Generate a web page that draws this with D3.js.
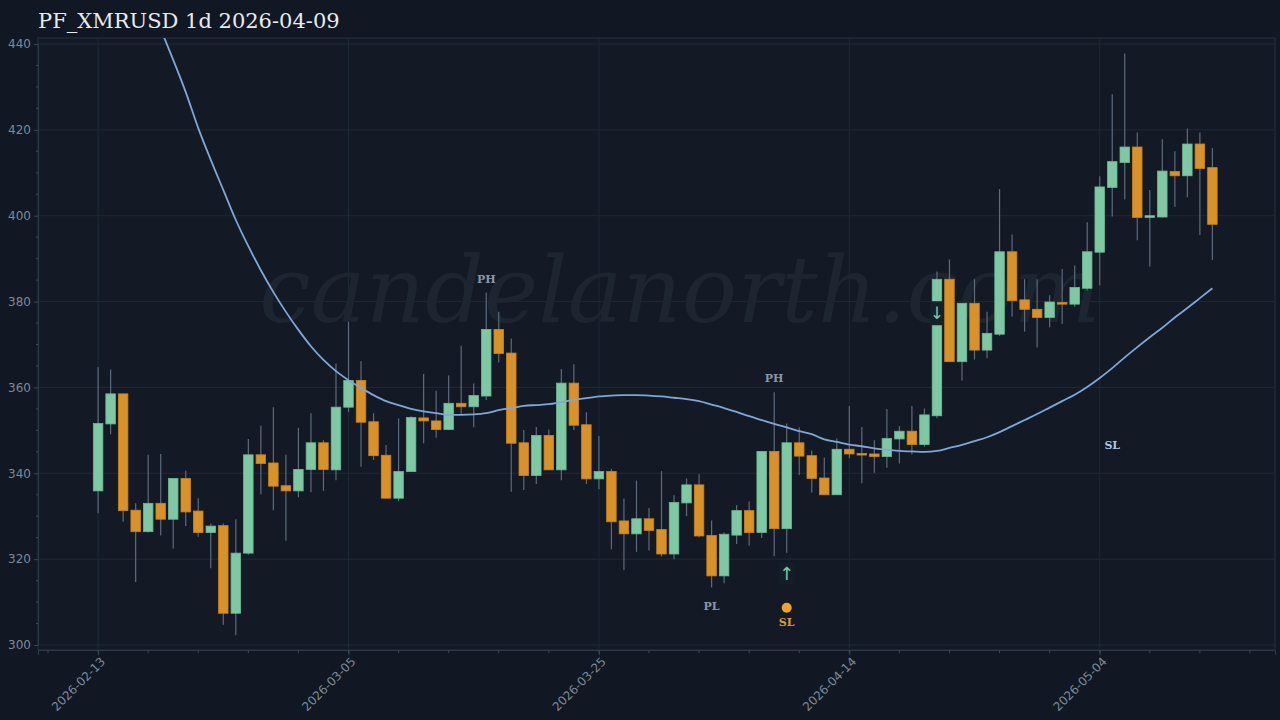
<!DOCTYPE html>
<html><head><meta charset="utf-8">
<script src="https://cdn.jsdelivr.net/npm/d3@7"></script>
<style>html,body{margin:0;padding:0;background:#111823;}svg{display:block}</style>
</head><body>
<svg id="c" width="1280" height="720"></svg>
<script>
const startDate = "2026-02-13";
const opens  = [335.9,351.5,358.5,331.4,326.4,333.0,329.3,338.8,331.2,326.2,327.8,307.4,321.4,344.3,342.4,337.1,335.9,340.9,347.1,340.8,355.4,361.6,352.0,344.2,334.2,340.4,352.9,352.2,350.2,356.3,355.5,358.0,373.5,368.0,347.1,339.5,348.8,340.8,361.0,351.3,338.7,340.4,328.9,325.9,329.4,326.9,321.2,333.1,337.3,325.5,316.1,325.6,331.3,326.2,345.1,327.1,347.1,344.1,338.9,335.0,345.6,344.6,344.5,343.9,348.0,349.8,346.7,353.4,385.2,366.0,379.6,368.7,372.4,391.6,380.4,378.2,376.3,379.8,379.4,383.1,391.5,406.6,412.4,416.0,399.6,399.7,410.3,409.3,416.7,411.2];
const highs  = [364.7,364.2,358.5,333.0,344.3,344.5,338.8,340.6,334.2,328.3,328.3,329.3,348.0,351.1,355.4,344.3,350.6,354.0,347.7,365.6,375.3,366.1,354.0,346.6,352.8,353.3,363.1,359.2,362.8,369.7,360.9,382.1,377.6,371.4,350.1,350.8,350.2,364.3,365.4,354.2,348.7,341.0,334.1,338.3,331.9,340.5,334.9,338.8,339.8,329.0,326.2,332.6,333.4,345.1,358.9,351.6,350.7,345.3,343.7,348.1,355.7,350.8,347.7,355.0,351.0,355.7,355.1,387.0,389.8,379.6,385.2,377.6,406.2,395.6,385.2,385.2,381.5,387.6,388.4,398.5,409.2,428.3,437.8,419.4,406.0,417.8,415.0,420.3,419.4,415.8];
const lows   = [330.7,349.1,328.7,314.7,326.2,325.5,322.5,327.7,325.2,317.9,304.7,302.3,321.0,335.1,331.4,324.3,334.4,335.6,335.9,338.4,354.3,341.5,343.1,334.2,333.5,340.4,347.0,348.3,350.2,353.8,350.7,357.1,365.8,335.7,336.1,337.5,340.8,338.4,350.1,337.5,336.3,322.3,317.5,321.7,322.0,320.6,320.0,330.0,325.1,313.4,314.4,323.5,323.1,324.9,320.7,321.5,339.6,335.5,335.0,335.0,343.5,337.7,340.1,341.3,342.3,344.4,346.2,352.8,366.0,361.6,366.5,366.8,372.0,376.5,373.0,369.3,374.0,374.8,378.8,382.5,383.8,399.8,403.8,394.3,388.1,399.5,402.1,404.3,395.5,389.7];
const closes = [351.6,358.5,331.3,326.4,333.0,329.3,338.8,331.0,326.2,327.7,307.4,321.4,344.3,342.3,337.0,335.9,340.9,347.1,340.9,355.4,361.6,351.9,344.1,334.2,340.4,353.0,352.2,350.2,356.3,355.5,358.1,373.5,367.9,347.0,339.5,348.8,340.8,361.0,351.2,338.7,340.4,328.7,325.9,329.4,326.7,321.2,333.2,337.3,325.4,316.1,325.8,331.3,326.2,345.1,327.1,347.1,344.0,338.8,335.0,345.6,344.5,344.3,343.9,348.1,349.8,346.7,353.6,385.2,366.0,379.6,368.7,372.6,391.6,380.2,378.2,376.3,379.9,379.4,383.3,391.6,406.7,412.6,416.0,399.6,400.0,410.4,409.3,416.7,411.0,398.0];
const maStart = 6;
const maValues = [436.3,428.8,420.4,413.0,406.0,399.0,392.9,387.3,382.2,377.6,373.4,369.6,366.4,363.8,361.7,359.9,358.2,356.8,355.9,355.0,354.4,354.0,353.6,353.6,353.7,354.0,354.7,355.2,355.7,355.9,356.1,356.6,357.1,357.5,357.9,358.1,358.2,358.2,358.1,357.9,357.6,357.3,356.8,356.0,355.2,354.3,353.3,352.4,351.5,350.7,349.8,349.1,347.9,347.3,346.7,346.3,345.8,345.5,345.2,345.1,345.0,345.2,345.9,346.6,347.5,348.4,349.6,351.0,352.4,353.8,355.3,356.8,358.3,360.1,362.2,364.5,367.0,369.4,371.7,373.9,376.3,378.5,380.8,383.1];
const yTicks = [300,320,340,360,380,400,420,440];
const xTickLabels = ["2026-02-13","2026-03-05","2026-03-25","2026-04-14","2026-05-04"];
const markers = [
  {i:31, type:"PH"}, {i:54, type:"PH"}, {i:49, type:"PL"},
  {i:55, type:"up"}, {i:55, type:"slDot"}, {i:67, type:"down"}, {i:81, type:"SLblue"}
];

const svg = d3.select("#c");
const L=38,R=1275,T=38,B=650;
const t0 = d3.utcParse("%Y-%m-%d")(startDate);
const dates = opens.map((_,i)=>d3.utcDay.offset(t0,i));
const day = 86400000;
const x = d3.scaleUtc().domain([new Date(+t0-4.8*day), new Date(+t0+94.0*day)]).range([L,R]);
const y = d3.scaleLinear().domain([300,440]).range([645,44]);

svg.append("rect").attr("width",1280).attr("height",720).attr("fill","#111823");
svg.append("rect").attr("x",L).attr("y",T).attr("width",R-L).attr("height",B-T).attr("fill","#131a25").attr("stroke","#263240");

const g = svg.append("g");
g.selectAll(".hg").data(yTicks).join("line").attr("x1",L).attr("x2",R).attr("y1",d=>y(d)).attr("y2",d=>y(d)).attr("stroke","#1c2a35").attr("stroke-width",1);
const majors = xTickLabels.map(s=>d3.utcParse("%Y-%m-%d")(s));
g.selectAll(".vg").data(majors).join("line").attr("y1",T).attr("y2",B).attr("x1",d=>x(d)).attr("x2",d=>x(d)).attr("stroke","#1c2a35");

svg.append("text").attr("x",680).attr("y",322).attr("text-anchor","middle").attr("font-family","DejaVu Serif").attr("font-style","italic").attr("font-size",92).attr("fill","#1c2530").text("candelanorth.com");

const ya = d3.axisLeft(y).tickValues(yTicks).tickSize(4).tickFormat(d3.format("d"));
const yAx = svg.append("g").attr("transform",`translate(${L},0)`).call(ya);
const yMinor = d3.range(300,441,5).filter(v=>v%20);
svg.append("g").selectAll("line").data(yMinor).join("line").attr("x1",L-2).attr("x2",L).attr("y1",d=>y(d)).attr("y2",d=>y(d)).attr("stroke","#3a4756");
const minorX = d3.range(-4,95,4).map(k=>d3.utcDay.offset(t0,k));
const xa = d3.axisBottom(x).tickValues(majors).tickSize(5).tickFormat(d3.utcFormat("%Y-%m-%d"));
const xAx = svg.append("g").attr("transform",`translate(0,${B})`).call(xa);
svg.append("g").selectAll("line").data(minorX).join("line").attr("x1",d=>x(d)).attr("x2",d=>x(d)).attr("y1",B).attr("y2",B+3).attr("stroke","#3a4756");
[yAx,xAx].forEach(a=>{a.select(".domain").attr("stroke","#2c3947");a.selectAll(".tick line").attr("stroke","#3a4756");a.selectAll("text").attr("fill","#7d8a99").attr("font-family","DejaVu Sans").attr("font-size",12);});
xAx.selectAll("text").attr("text-anchor","end").attr("dx","-0.3em").attr("dy","0.5em").attr("transform","rotate(-45)");

const bw = 9.5;
const up="#7fc8a4", dn="#d9922a";
const cg = svg.append("g");
dates.forEach((d,i)=>{
  const cx = x(d), isUp = closes[i]>=opens[i];
  cg.append("line").attr("x1",cx).attr("x2",cx).attr("y1",y(highs[i])).attr("y2",y(lows[i])).attr("stroke","#5d6b7b").attr("stroke-width",1.2);
  const top=y(Math.max(opens[i],closes[i])), bot=y(Math.min(opens[i],closes[i]));
  cg.append("rect").attr("x",cx-bw/2).attr("y",top).attr("width",bw).attr("height",Math.max(1.5,bot-top)).attr("fill",isUp?up:dn).attr("stroke",isUp?"#6fb894":"#c9841f").attr("stroke-width",0.8);
});

svg.append("clipPath").attr("id","clp").append("rect").attr("x",L).attr("y",T).attr("width",R-L).attr("height",B-T);
const maPts = maValues.map((v,k)=>[dates[maStart+k],v]);
svg.append("path").attr("clip-path","url(#clp)").datum([[dates[5],443.5],...maPts]).attr("fill","none").attr("stroke","#7ea6d8").attr("stroke-width",1.8)
  .attr("d",d3.line().x(p=>x(p[0])).y(p=>y(p[1])).curve(d3.curveMonotoneX));

markers.forEach(m=>{
  const cx=x(dates[m.i]);
  if(m.type==="PH") svg.append("text").attr("x",cx).attr("y",y(highs[m.i])-10).attr("text-anchor","middle").attr("font-family","DejaVu Serif").attr("font-weight","bold").attr("font-size",11).attr("fill","#8a96a6").text("PH");
  if(m.type==="PL") svg.append("text").attr("x",cx).attr("y",y(lows[m.i])+23).attr("text-anchor","middle").attr("font-family","DejaVu Serif").attr("font-weight","bold").attr("font-size",11).attr("fill","#8a96a6").text("PL");
  if(m.type==="up"){ svg.append("rect").attr("x",cx-8).attr("y",y(lows[m.i])+10).attr("width",16).attr("height",22).attr("fill","#141e28");
    svg.append("text").attr("x",cx).attr("y",y(lows[m.i])+27).attr("text-anchor","middle").attr("font-family","DejaVu Sans").attr("font-size",18).attr("fill","#7fc8a4").text("↑");}
  if(m.type==="slDot"){ svg.append("circle").attr("cx",cx).attr("cy",y(lows[m.i])+55).attr("r",5).attr("fill","#f0a22a");
    svg.append("text").attr("x",cx).attr("y",y(lows[m.i])+73).attr("text-anchor","middle").attr("font-family","DejaVu Serif").attr("font-weight","bold").attr("font-size",11).attr("fill","#e09a2c").text("SL");}
  if(m.type==="down"){ const yt=y(closes[m.i])+22; svg.append("rect").attr("x",cx-7).attr("y",yt).attr("width",14).attr("height",24).attr("fill","#162027");
    svg.append("text").attr("x",cx).attr("y",yt+18).attr("text-anchor","middle").attr("font-family","DejaVu Sans").attr("font-size",17).attr("fill","#7fc8a4").text("↓");}
  if(m.type==="SLblue") svg.append("text").attr("x",cx).attr("y",y(maValues[m.i-maStart])+81).attr("text-anchor","middle").attr("font-family","DejaVu Serif").attr("font-weight","bold").attr("font-size",11).attr("fill","#a9c6ee").text("SL");
});

svg.append("text").attr("x",38).attr("y",28).attr("font-family","DejaVu Serif").attr("font-size",21).attr("fill","#e8ecf0").text("PF_XMRUSD 1d 2026-04-09");
</script>
</body></html>
